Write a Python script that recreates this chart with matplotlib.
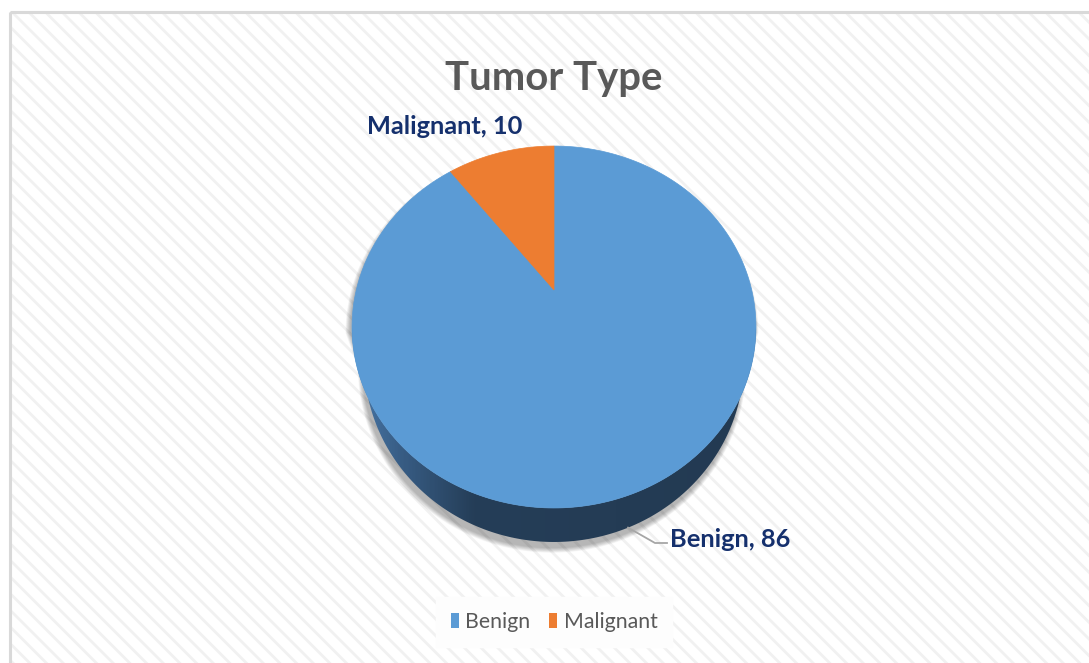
import numpy as np
import matplotlib
matplotlib.use('Agg')
import matplotlib.pyplot as plt
from matplotlib import font_manager
from matplotlib.patches import Polygon, Rectangle, Patch
from matplotlib.colors import LinearSegmentedColormap

# Chart data
title = 'Tumor Type'
labels = ['Benign', 'Malignant']
values = [86, 10]
colors = ['#5b9bd5', '#ed7d31']

W, H = 1089, 663

# Calibri-like look; Lato is the closest of the installed families.
names = {f.name for f in font_manager.fontManager.ttflist}
for fam in ['Liberation Sans Narrow', 'Lato', 'DejaVu Sans']:
    if fam in names:
        break
plt.rcParams['font.family'] = [fam, 'DejaVu Sans']
plt.rcParams['hatch.linewidth'] = 2.0
plt.rcParams['hatch.color'] = '#f1f1f1'

# Fake 3D pie: unit disk seen in perspective, fitted to the picture.
CX, CY = 554, 290      # where the disk centre lands
SX, SY = 197.7, 173.4
K = 0.2045             # perspective strength
DEPTH = 34             # thickness of the pie side, px
SHRINK = 0.94          # bottom face is further away, so a bit narrower


def proj(t, r=1.0):
    x = r * np.cos(t)
    y = r * np.sin(t)
    d = 1 + K * y
    return CX + SX * x / d, CY - SY * y / d


def proj_bottom(t):
    x, y = proj(t)
    return CX + (x - CX) * SHRINK, y + DEPTH


fig = plt.figure(figsize=(W / 100, H / 100), dpi=100)
ax = fig.add_axes([0, 0, 1, 1])
renderer = fig.canvas.get_renderer()


def fit_width(txt, target):
    # scale the font so the text spans `target` pixels
    w = txt.get_window_extent(renderer).width
    txt.set_fontsize(txt.get_fontsize() * target / w)
    return txt.get_fontsize()


# Chart area: hatched background with a light grey frame.
ax.add_patch(Rectangle((10, 12), 1200, 800, facecolor='white',
                       edgecolor='#f1f1f1', hatch='\\\\', linewidth=0,
                       zorder=0))
ax.add_patch(Rectangle((9.5, 11.5), 1200, 800, fill=False,
                       edgecolor='#d9d9d9', linewidth=2.2, zorder=1))

# Silhouette of the pie (top rim over the back, bottom rim in front).
t_left = np.pi + np.arcsin(K)
t_right = 2 * np.pi - np.arcsin(K)
tb = np.linspace(t_right - 2 * np.pi, t_left, 200)   # back half
tf = np.linspace(t_left, t_right, 200)              # front half
bx, by = proj(tb)
fx, fy = proj(tf)
gx, gy = proj_bottom(tf)

# soft drop shadow, mostly below the pie
sil_x = np.concatenate([bx, gx])
sil_y = np.concatenate([by, gy])
for i in range(10):
    s = 1 + 0.0025 * i
    ax.add_patch(Polygon(np.column_stack([CX - 2 + (sil_x - CX) * s,
                                          CY + 40 + 6 + (sil_y - CY - 40) * s]),
                         closed=True, facecolor='black', edgecolor='none',
                         alpha=0.03, zorder=2))

# side of the pie, with a horizontal gradient
side = Polygon(np.column_stack([np.concatenate([fx, gx[::-1]]),
                                np.concatenate([fy, gy[::-1]])]),
               closed=True, facecolor='none', edgecolor='none', zorder=3)
ax.add_patch(side)
cmap = LinearSegmentedColormap.from_list(
    'side', [(0.0, '#4a7aab'), (0.12, '#385d85'), (0.3, '#253e58'),
             (1.0, '#233a52')])
grad = np.linspace(0, 1, 400).reshape(1, -1)
img = ax.imshow(grad, cmap=cmap, extent=(350, 760, 580, 300),
                aspect='auto', zorder=3, interpolation='bilinear')
img.set_clip_path(side)

# top face: slices clockwise from 12 o'clock
frac = np.array(values) / np.sum(values)
edges = np.pi / 2 - 2 * np.pi * np.concatenate([[0], np.cumsum(frac)])
for i, col in enumerate(colors):
    t = np.linspace(edges[i], edges[i + 1], 300)
    px, py = proj(t)
    ax.add_patch(Polygon(np.column_stack([np.r_[CX, px], np.r_[CY, py]]),
                         closed=True, facecolor=col, edgecolor=col,
                         linewidth=0.5, zorder=4))

ax.set_xlim(0, W)
ax.set_ylim(H, 0)
ax.axis('off')

# data labels
navy = '#15306d'
mid = (edges[:-1] + edges[1:]) / 2
lx, ly = proj_bottom(mid[0])
ax.plot([lx, 655, 667], [ly, 543, 543], color='#a6a6a6', linewidth=1.3,
        zorder=5)
t_ben = ax.text(670, 547, f'{labels[0]}, {values[0]}', ha='left',
                va='baseline', fontsize=20, fontweight='bold', color=navy,
                zorder=6)
t_mal = ax.text(445, 134, f'{labels[1]}, {values[1]}', ha='center',
                va='baseline', fontsize=20, fontweight='bold', color=navy,
                zorder=6)
fit_width(t_mal, 156)
t_ben.set_fontsize(t_mal.get_fontsize())

t_title = ax.text(554, 90, title, ha='center', va='baseline', fontsize=30,
                  fontweight='bold', color='#595959', zorder=6)
fit_width(t_title, 217)

probe = ax.text(0, 0, labels[0], fontsize=16)
leg_fs = fit_width(probe, 65)
probe.remove()

handles = [Patch(facecolor=c, edgecolor='none', label=l)
           for l, c in zip(labels, colors)]
leg = ax.legend(handles=handles, loc='center', bbox_to_anchor=(554, 622),
                bbox_transform=ax.transData, ncol=2, fontsize=leg_fs,
                handlelength=8 / (leg_fs * 100 / 72),
                handleheight=16 / (leg_fs * 100 / 72),
                handletextpad=0.3, columnspacing=0.9, frameon=True,
                fancybox=False, facecolor='#fdfdfd', edgecolor='#fdfdfd',
                framealpha=1, borderpad=0.7, labelcolor='#595959')
leg.set_zorder(6)

fig.savefig('out.png', dpi=100)
